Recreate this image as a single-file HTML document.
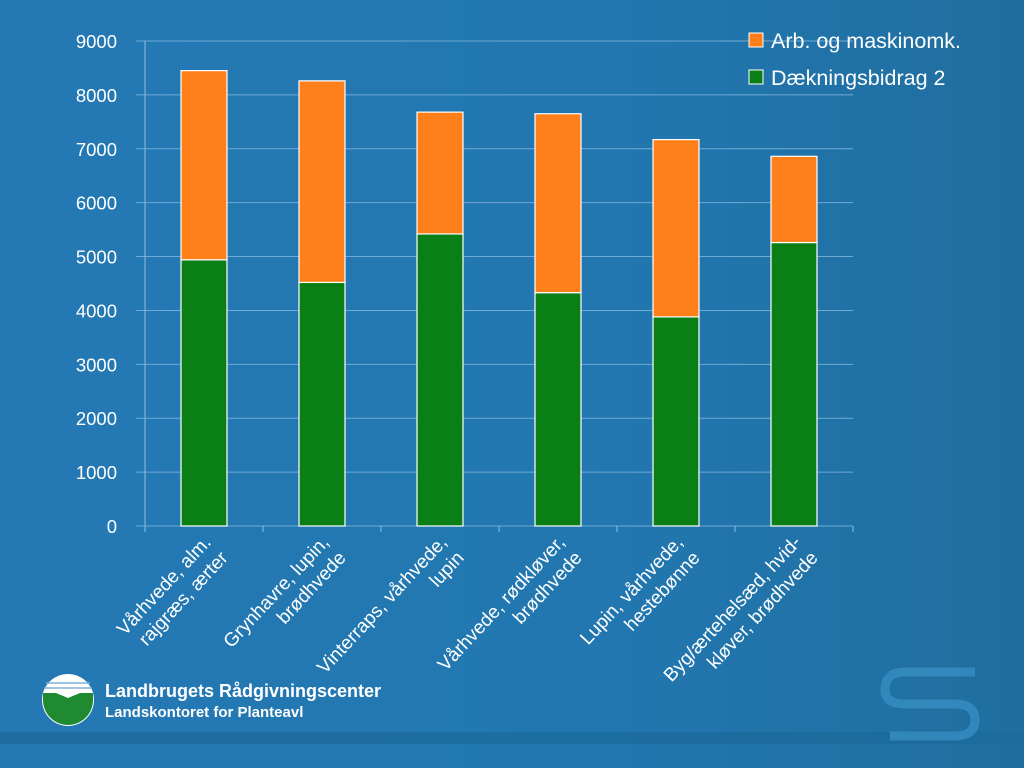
<!DOCTYPE html>
<html><head><meta charset="utf-8"><style>
body{margin:0;width:1024px;height:768px;overflow:hidden;font-family:"Liberation Sans",sans-serif;}
#bg{position:absolute;left:0;top:0;width:1024px;height:768px;background:linear-gradient(90deg,#2479b4 0%,#2277b0 60%,#1f6e9f 100%);}
</style></head><body>
<div id="bg"></div>
<svg id="chart" width="1024" height="768" style="position:absolute;left:0;top:0">
<rect x="0" y="732" width="1024" height="12" fill="#1c6a9c" opacity="0.8"/>
<g>
<circle cx="68" cy="700" r="26" fill="#ffffff"/>
<path d="M43 700 A25 25 0 0 0 93 700 L93 693 L80 693 L68 698 L56 693 L43 693 Z" fill="#1f8a2f"/>
<circle cx="75" cy="687" r="7" fill="#fff"/>
<line x1="46" y1="683" x2="90" y2="683" stroke="#7fb0d8" stroke-width="1.5"/>
<line x1="44" y1="688" x2="92" y2="688" stroke="#7fb0d8" stroke-width="1.5"/>
</g>
<text x="105" y="697" fill="#fff" font-size="18" font-weight="bold">Landbrugets Rådgivningscenter</text>
<text x="105" y="717" fill="#fff" font-size="15" font-weight="bold">Landskontoret for Planteavl</text>
<g fill="none" stroke="#3b93c8" stroke-width="9" opacity="0.7">
<path d="M975 672 L905 672 Q885 672 885 690 Q885 704 905 704 L955 704 Q975 704 975 720 Q975 736 955 736 L890 736"/>
</g>
<g id="grid"></g><g id="bars"></g><g id="labels"></g>
<g>
<rect x="749" y="33" width="14" height="14" fill="#ff7f1a" stroke="#fff"/>
<text x="771" y="48" fill="#fff" font-size="21.5">Arb. og maskinomk.</text>
<rect x="749" y="70" width="14" height="14" fill="#0a7f16" stroke="#fff"/>
<text x="771" y="85" fill="#fff" font-size="21.5">Dækningsbidrag 2</text>
</g>
</svg>
<script>
const categories=[["Vårhvede, alm.","rajgræs, ærter"],["Grynhavre, lupin,","brødhvede"],["Vinterraps, vårhvede,","lupin"],["Vårhvede, rødkløver,","brødhvede"],["Lupin, vårhvede,","hestebønne"],["Byg/ærtehelsæd, hvid-","kløver, brødhvede"]];
const db2=[4940,4520,5420,4330,3880,5260];
const totals=[8450,8260,7680,7650,7170,6860];
const ticks=[0,1000,2000,3000,4000,5000,6000,7000,8000,9000];
const NS="http://www.w3.org/2000/svg";
const x0=145,x1=853,yb=526,yt=41,ymax=9000;
const y=v=>yb-(v/ymax)*(yb-yt);
const bw=(x1-x0)/categories.length;
const xc=i=>x0+bw*(i+0.5);
function mk(t,a,p){const e=document.createElementNS(NS,t);for(const k in a)e.setAttribute(k,a[k]);p.appendChild(e);return e;}
const G=document.getElementById('grid'),B=document.getElementById('bars'),L=document.getElementById('labels');
ticks.forEach(t=>{
 const l=mk('line',{x1:136,x2:x1,y1:y(t),y2:y(t),stroke:'#6fa9d4','stroke-width':1},G);
 
 
 const tx=mk('text',{x:117,y:y(t)+7,fill:'#fff','font-size':18.5,'text-anchor':'end'},G);
 tx.textContent=t;
 
 
});
const ax=mk('line',{x1:x0,x2:x0,y1:yt,y2:yb,stroke:'#8fbde0'},G);


for(let i=0;i<=categories.length;i++){
 const t=mk('line',{x1:x0+bw*i,x2:x0+bw*i,y1:yb,y2:yb+6,stroke:'#8fbde0'},G);
 
 
}
categories.forEach((c,i)=>{
 const cx=xc(i),w=46;
 const g=mk('rect',{x:cx-w/2,y:y(db2[i]),width:w,height:yb-y(db2[i]),fill:'#0a7f16',stroke:'#fff','stroke-width':1.2},B);
 
 
 const o=mk('rect',{x:cx-w/2,y:y(totals[i]),width:w,height:y(db2[i])-y(totals[i]),fill:'#ff7f1a',stroke:'#fff','stroke-width':1.2},B);
 
 
 const t=mk('text',{transform:`translate(${cx+8},543) rotate(-47)`,fill:'#fff','font-size':19,'text-anchor':'end'},L);
 
 
 c.forEach((s,k)=>{const ts=mk('tspan',{x:0,y:k*23},t);ts.textContent=s;});
});
</script>
</body></html>
